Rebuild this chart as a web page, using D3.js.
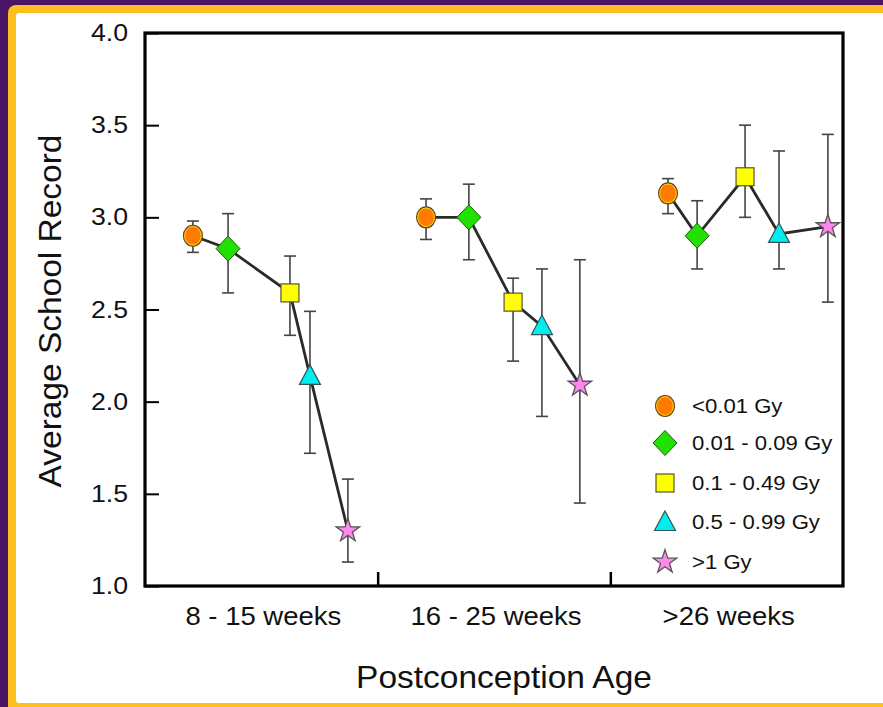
<!DOCTYPE html>
<html>
<head>
<meta charset="utf-8">
<script src="https://cdn.jsdelivr.net/npm/d3@7"></script>
<style>
  html, body { margin: 0; padding: 0; background: #4b1464; }
  svg { display: block; }
  text { font-family: "Liberation Sans", Arial, Helvetica, sans-serif; fill: #111; }
</style>
</head>
<body>
<svg id="chart" width="883" height="707"></svg>
<script>
// ---- Data ----
const categories = ["8 - 15 weeks", "16 - 25 weeks", ">26 weeks"];
const seriesNames = ["<0.01 Gy", "0.01 - 0.09 Gy", "0.1 - 0.49 Gy", "0.5 - 0.99 Gy", ">1 Gy"];
// position of each point along the category axis (category index + offset inside group)
const xCircle   = [0.206, 1.208, 2.248];
const xDiamond  = [0.357, 1.392, 2.373];
const xSquare   = [0.623, 1.582, 2.579];
const xTriangle = [0.709, 1.706, 2.725];
const xStar     = [0.872, 1.869, 2.935];
// means
const meanCircle   = [2.90, 3.00, 3.13];
const meanDiamond  = [2.83, 3.00, 2.90];
const meanSquare   = [2.59, 2.54, 3.22];
const meanTriangle = [2.14, 2.41, 2.91];
const meanStar     = [1.30, 2.09, 2.95];
// error bar upper / lower
const hiCircle   = [2.98, 3.10, 3.21];
const loCircle   = [2.81, 2.88, 3.02];
const hiDiamond  = [3.02, 3.18, 3.09];
const loDiamond  = [2.59, 2.77, 2.72];
const hiSquare   = [2.79, 2.67, 3.50];
const loSquare   = [2.36, 2.22, 3.00];
const hiTriangle = [2.49, 2.72, 3.36];
const loTriangle = [1.72, 1.92, 2.72];
const hiStar     = [1.58, 2.77, 3.45];
const loStar     = [1.13, 1.45, 2.54];
const yTicks = [1.0, 1.5, 2.0, 2.5, 3.0, 3.5, 4.0];

const series = [
  {name: seriesNames[0], x: xCircle,   m: meanCircle,   hi: hiCircle,   lo: loCircle,   shape: "circle"},
  {name: seriesNames[1], x: xDiamond,  m: meanDiamond,  hi: hiDiamond,  lo: loDiamond,  shape: "diamond"},
  {name: seriesNames[2], x: xSquare,   m: meanSquare,   hi: hiSquare,   lo: loSquare,   shape: "square"},
  {name: seriesNames[3], x: xTriangle, m: meanTriangle, hi: hiTriangle, lo: loTriangle, shape: "triangle"},
  {name: seriesNames[4], x: xStar,     m: meanStar,     hi: hiStar,     lo: loStar,     shape: "star"}
];
const styles = {
  circle:   {fill: "#ff7a00", stroke: "#6a5a20"},
  diamond:  {fill: "#22e000", stroke: "#1a5a10"},
  square:   {fill: "#ffff00", stroke: "#555533"},
  triangle: {fill: "#00eef0", stroke: "#335555"},
  star:     {fill: "#ff88f0", stroke: "#555555"}
};

(function () {
// ---- Layout ----
const svg = d3.select("#chart");
svg.append("rect").attr("x", 0).attr("y", 0).attr("width", 883).attr("height", 707).attr("fill", "#4b1464");
svg.append("rect").attr("x", 8).attr("y", 5).attr("width", 1000).attr("height", 710).attr("rx", 8).attr("fill", "#fcbf21");
svg.append("rect").attr("x", 16).attr("y", 13).attr("width", 1000).attr("height", 690).attr("rx", 3).attr("fill", "#ffffff");

const pL = 145, pR = 843, pT = 33, pB = 586;
const x = d3.scaleLinear().domain([0, 3]).range([pL, pR]);
const y = d3.scaleLinear().domain([1, 4]).range([pB, pT]);

// helper: text with horizontal stretch
function addText(g, tx, ty, str, size, sx, anchor, rot) {
  return g.append("text")
    .attr("transform", `translate(${tx},${ty})` + (rot ? ` rotate(${rot})` : "") + ` scale(${sx},1)`)
    .attr("text-anchor", anchor || "start")
    .attr("font-size", size)
    .text(str);
}

// y axis ticks (inward), labels drawn separately with stretch
const yAxis = d3.axisLeft(y).tickValues(yTicks).tickFormat("").tickSizeInner(-14).tickSizeOuter(0);
const gy = svg.append("g").attr("transform", `translate(${pL},0)`).call(yAxis);
gy.select(".domain").remove();
gy.selectAll(".tick line").attr("stroke", "#000").attr("stroke-width", 2);
const fmt = d3.format(".1f");
yTicks.forEach(v => addText(svg, pL - 17, y(v) + 8, fmt(v), 23, 1.16, "end"));

// x axis dividers (inward ticks)
const xAxis = d3.axisBottom(x).tickValues([1, 2]).tickFormat("").tickSizeInner(-14).tickSizeOuter(0);
const gx = svg.append("g").attr("transform", `translate(0,${pB})`).call(xAxis);
gx.select(".domain").remove();
gx.selectAll(".tick line").attr("stroke", "#000").attr("stroke-width", 2.5);

categories.forEach((c, i) => addText(svg, x(i + 0.5) + 2, 625, c, 25, 1.1, "middle"));

// frame
svg.append("rect").attr("x", pL).attr("y", pT).attr("width", pR - pL).attr("height", pB - pT)
  .attr("fill", "none").attr("stroke", "#000").attr("stroke-width", 3.2);

// axis titles
addText(svg, x(1.5) + 10, 688, "Postconception Age", 31, 1.08, "middle");
addText(svg, 61, 311, "Average School Record", 31, 1.08, "middle", -90);

// ---- marks ----
function drawMarker(g, shape, cx, cy) {
  const st = styles[shape];
  if (shape === "circle") {
    g.append("ellipse").attr("cx", cx).attr("cy", cy).attr("rx", 9.5).attr("ry", 10.5)
      .attr("fill", st.fill).attr("stroke", "#5a4a20").attr("stroke-width", 1.2);
    g.append("ellipse").attr("cx", cx).attr("cy", cy).attr("rx", 8.3).attr("ry", 9.3)
      .attr("fill", "none").attr("stroke", "#ffd000").attr("stroke-width", 1);
  } else if (shape === "diamond") {
    const p = d3.path();
    p.moveTo(cx, cy - 12.5); p.lineTo(cx + 12, cy); p.lineTo(cx, cy + 12.5); p.lineTo(cx - 12, cy); p.closePath();
    g.append("path").attr("d", p.toString()).attr("fill", st.fill).attr("stroke", st.stroke).attr("stroke-width", 1);
  } else if (shape === "triangle") {
    const p = d3.path();
    p.moveTo(cx, cy - 11); p.lineTo(cx + 10.5, cy + 8.5); p.lineTo(cx - 10.5, cy + 8.5); p.closePath();
    g.append("path").attr("d", p.toString()).attr("fill", st.fill).attr("stroke", st.stroke).attr("stroke-width", 1.2);
  } else if (shape === "square") {
    g.append("rect").attr("x", cx - 9).attr("y", cy - 9).attr("width", 18).attr("height", 18)
      .attr("fill", st.fill).attr("stroke", st.stroke).attr("stroke-width", 1.2);
  } else {
    g.append("path").attr("d", d3.symbol().type(d3.symbolStar).size(170)()).attr("transform", `translate(${cx},${cy})`)
      .attr("fill", st.fill).attr("stroke", st.stroke).attr("stroke-width", 1.3);
  }
}

// error bars
const gErr = svg.append("g");
series.forEach(s => {
  s.x.forEach((xv, i) => {
    const cx = x(xv);
    gErr.append("line").attr("x1", cx).attr("x2", cx).attr("y1", y(s.hi[i])).attr("y2", y(s.lo[i]))
      .attr("stroke", "#444").attr("stroke-width", 1.6);
    [s.hi[i], s.lo[i]].forEach(v => {
      gErr.append("line").attr("x1", cx - 6).attr("x2", cx + 6).attr("y1", y(v)).attr("y2", y(v))
        .attr("stroke", "#444").attr("stroke-width", 1.6);
    });
  });
});

// connecting lines per category
const line = d3.line().x(d => x(d.x)).y(d => y(d.m));
categories.forEach((c, ci) => {
  const pts = series.map(s => ({x: s.x[ci], m: s.m[ci]}));
  svg.append("path").attr("d", line(pts)).attr("fill", "none").attr("stroke", "#2a2a2a").attr("stroke-width", 2.8);
});

// markers
const gM = svg.append("g");
series.forEach(s => {
  s.x.forEach((xv, i) => drawMarker(gM, s.shape, x(xv), y(s.m[i])));
});

// legend
const legendY = [406, 443, 483, 522, 562];
const gL = svg.append("g");
series.forEach((s, i) => {
  drawMarker(gL, s.shape, 665, legendY[i]);
  addText(gL, 692, legendY[i] + 7, s.name, 20.5, 1.08, "start");
});
})();
</script>
</body>
</html>
